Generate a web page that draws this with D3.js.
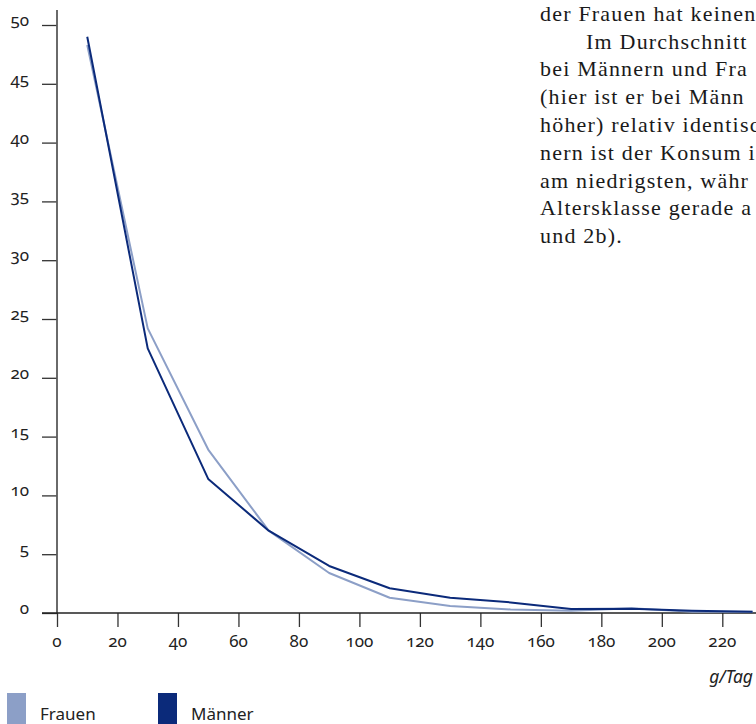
<!DOCTYPE html>
<html><head><meta charset="utf-8">
<script src="https://cdn.jsdelivr.net/npm/d3@7"></script>
<style>
html,body{margin:0;padding:0;background:#fff;}
#wrap{position:relative;width:756px;height:724px;overflow:hidden;}
svg{display:block;position:absolute;left:0;top:0;}
.lab{position:absolute;font-family:"Noto Sans",sans-serif;font-size:17px;line-height:20px;color:#222;
  font-feature-settings:"onum" 1;font-variant-numeric:oldstyle-nums;white-space:nowrap;}
</style></head>
<body>
<div id="wrap"><svg id="c" width="756" height="724"></svg></div>
<script>
const xValues = [10, 30, 50, 70, 90, 110, 130, 150, 170, 190, 210, 230];
const frauen = [48.3, 24.2, 13.9, 7.0, 3.4, 1.3, 0.6, 0.3, 0.2, 0.4, 0.1, 0.1];
const maenner = [49.0, 22.5, 11.4, 7.0, 4.0, 2.1, 1.3, 0.9, 0.35, 0.37, 0.2, 0.1];
const xTicks = [0, 20, 40, 60, 80, 100, 120, 140, 160, 180, 200, 220];
const yTicks = [0, 5, 10, 15, 20, 25, 30, 35, 40, 45, 50];
const seriesNames = ["Frauen", "Männer"];
const seriesColors = ["#8c9fc7", "#0b2a7a"];
const xUnit = "g/Tag";
const textLines = [
  "der Frauen hat keinen",
  "Im Durchschnitt",
  "bei Männern und Fra",
  "(hier ist er bei Männ",
  "höher) relativ identisc",
  "nern ist der Konsum i",
  "am niedrigsten, währ",
  "Altersklasse gerade a",
  "und 2b)."
];

const wrap = d3.select("#wrap");
const svg = d3.select("#c");
const x = d3.scaleLinear().domain([0, 220]).range([57, 722.3]);
const y = d3.scaleLinear().domain([0, 50]).range([613, 25]);

// Y axis
const yAxis = svg.append("g").attr("transform", `translate(${x(0)},0)`)
  .call(d3.axisLeft(y).tickValues(yTicks).tickSize(15).tickSizeOuter(0).tickFormat(""));
yAxis.select(".domain").remove();
yAxis.selectAll(".tick line").attr("stroke", "#333").attr("stroke-width", 1.3);
svg.append("line").attr("x1", x(0)).attr("x2", x(0)).attr("y1", 10).attr("y2", y(0))
  .attr("stroke", "#5a5a5a").attr("stroke-width", 1.8);
wrap.selectAll("div.ylab").data(yTicks).join("div").attr("class", "lab ylab")
  .style("left", "0px").style("width", "29px").style("text-align", "right")
  .style("top", d => (y(d) - 15) + "px").text(d => d);

// X axis
const xAxis = svg.append("g").attr("transform", `translate(0,${y(0)})`)
  .call(d3.axisBottom(x).tickValues(xTicks).tickSize(14).tickSizeOuter(0).tickFormat(""));
xAxis.select(".domain").remove();
xAxis.selectAll(".tick line").attr("stroke", "#333").attr("stroke-width", 1.3);
svg.append("line").attr("x1", 42).attr("x2", 756).attr("y1", y(0)).attr("y2", y(0))
  .attr("stroke", "#222").attr("stroke-width", 1.5);
wrap.selectAll("div.xlab").data(xTicks).join("div").attr("class", "lab xlab")
  .style("left", d => x(d) + "px").style("transform", "translateX(-50%)")
  .style("top", "631px").text(d => d);

svg.append("text").attr("x", 753).attr("y", 683).attr("text-anchor", "end")
  .attr("font-family", "'Noto Sans', sans-serif").attr("font-style", "italic")
  .attr("font-size", 17.5).attr("fill", "#222").text(xUnit);

// Lines
const line = d3.line().x((d, i) => x(xValues[i])).y(d => y(d));
[frauen, maenner].forEach((s, k) => {
  svg.append("path").datum(s).attr("d", line).attr("fill", "none")
    .attr("stroke", seriesColors[k]).attr("stroke-width", 2).attr("stroke-linejoin", "round");
});

// Legend
const legendX = [7, 158];
seriesNames.forEach((n, k) => {
  svg.append("rect").attr("x", legendX[k]).attr("y", 693).attr("width", 19).attr("height", 31)
    .attr("fill", seriesColors[k]);
  svg.append("text").attr("x", legendX[k] + 33).attr("y", 719.5)
    .attr("font-family", "'Noto Sans', sans-serif").attr("font-size", 17).attr("fill", "#222").text(n);
});

// Body text
const tx = 540;
textLines.forEach((t, i) => {
  svg.append("text").attr("x", i === 1 ? 586 : tx).attr("y", 20.8 + i * 27.8)
    .attr("font-family", "'Liberation Serif', serif").attr("font-size", 22)
    .attr("letter-spacing", 1.2).attr("fill", "#1a1a1a").text(t);
});
</script>
</body></html>
